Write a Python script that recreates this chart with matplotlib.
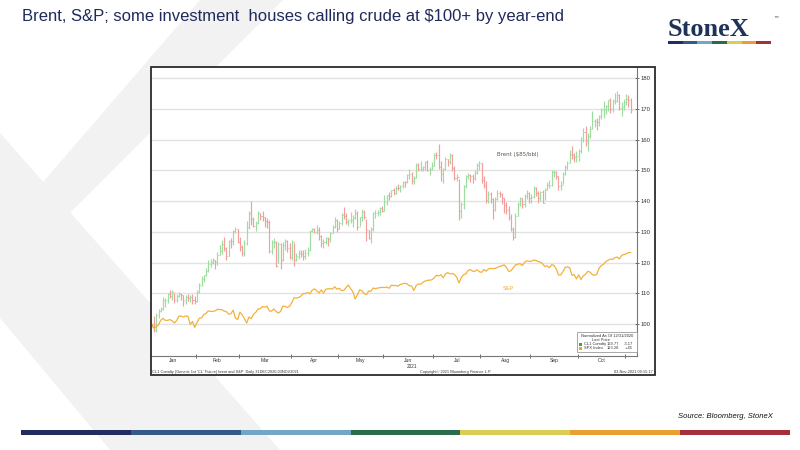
import numpy as np
import matplotlib.pyplot as plt
import pandas as pd
from matplotlib.patches import Rectangle, Polygon

W, H = 800, 450


def fx(x):
    return x / W


def fy(y):
    return 1 - y / H


# trading days, NYSE/NYMEX holidays removed
holidays = ['2021-01-01', '2021-01-18', '2021-02-15', '2021-04-02',
            '2021-05-31', '2021-07-05', '2021-09-06']
dates = pd.bdate_range('2020-12-31', '2021-11-03')
dates = dates[~dates.isin(pd.to_datetime(holidays))]

# crude, $/bbl (close / high / low), one row per month
crude_close = [48.52,
    47.62, 49.93, 50.63, 50.83, 52.24, 52.25, 53.21, 52.91, 53.57, 52.36, 52.98, 53.24, 53.13, 52.27, 52.77, 52.61, 52.85, 52.34, 52.20,
    53.55, 54.76, 55.69, 56.23, 56.85, 57.97, 58.36, 58.68, 58.24, 59.47, 60.05, 61.14, 60.52, 59.24, 61.70, 61.67, 63.22, 63.53, 61.50,
    60.64, 59.75, 61.28, 63.83, 66.09, 65.05, 64.01, 64.44, 66.02, 65.61, 65.39, 64.80, 64.60, 60.00, 61.42, 61.55, 57.76, 61.18, 58.56, 60.97, 61.56, 60.55, 59.16,
    61.45, 58.65, 59.33, 59.77, 59.60, 59.32, 59.70, 60.18, 63.15, 63.46, 63.13, 63.38, 62.44, 61.35, 61.43, 62.14, 61.91, 62.94, 63.86, 65.01, 63.58,
    64.49, 65.69, 65.63, 64.71, 64.90, 64.92, 65.28, 66.08, 63.82, 65.37, 66.27, 65.49, 63.36, 62.05, 63.58, 66.05, 66.07, 66.21, 66.85, 66.32,
    67.72, 68.83, 68.81, 69.62, 69.23, 70.05, 69.96, 70.29, 70.91, 70.88, 72.12, 72.15, 71.04, 71.64, 73.66, 73.06, 73.08, 73.30, 74.05, 72.91, 72.98, 73.47,
    75.23, 75.16, 73.37, 72.20, 72.94, 74.56, 74.10, 75.25, 73.13, 71.65, 71.81, 66.42, 67.42, 70.30, 71.91, 72.07, 71.91, 71.65, 72.39, 73.62, 73.95,
    71.26, 70.56, 68.15, 69.09, 68.28, 66.48, 68.29, 69.25, 69.09, 68.44, 67.29, 66.59, 65.46, 63.50, 62.32, 65.64, 67.54, 68.36, 67.42, 68.74, 69.21, 68.50,
    68.59, 69.99, 69.29, 68.35, 69.30, 67.68, 69.72, 70.45, 70.46, 72.61, 72.61, 71.97, 70.29, 70.56, 72.23, 73.30, 73.98, 75.45, 75.29, 74.83, 75.03,
    75.88, 77.62, 78.93, 77.43, 78.30, 79.35, 80.52, 80.64, 80.44, 81.31, 82.28, 82.44, 82.96, 83.87, 82.50, 83.76, 83.76, 84.65, 82.66, 82.81, 83.57,
    84.05, 83.91, 82.37]

crude_high = [48.58,
    49.83, 50.20, 50.94, 51.28, 52.75, 52.69, 53.41, 53.93, 53.91, 53.46, 53.19, 53.55, 53.38, 53.17, 53.10, 53.29, 53.05, 53.28, 52.87,
    53.93, 55.02, 56.18, 56.33, 57.29, 58.62, 58.75, 58.91, 58.68, 59.83, 60.95, 61.73, 62.26, 60.63, 61.86, 62.11, 63.40, 63.81, 63.55,
    62.33, 60.97, 61.76, 64.86, 66.40, 67.98, 65.42, 64.81, 66.40, 66.04, 66.30, 65.42, 65.22, 64.95, 61.83, 62.04, 61.71, 61.47, 61.36, 61.40, 61.93, 61.79, 61.25,
    61.72, 61.28, 59.73, 60.18, 60.26, 60.29, 60.39, 60.76, 63.44, 63.71, 63.66, 64.13, 63.88, 62.57, 61.95, 62.29, 62.20, 63.02, 64.09, 65.47, 65.04,
    64.81, 66.06, 67.00, 65.98, 65.07, 66.24, 65.75, 66.65, 66.30, 65.46, 66.74, 66.48, 65.11, 63.44, 63.91, 66.21, 66.51, 66.61, 67.05, 67.18,
    68.87, 68.96, 69.40, 69.76, 70.00, 70.28, 70.62, 70.48, 71.09, 71.19, 72.25, 72.99, 72.53, 71.87, 73.96, 73.93, 74.25, 73.55, 74.20, 74.45, 73.37, 74.14,
    75.60, 75.68, 76.98, 74.35, 73.20, 74.89, 74.66, 75.55, 75.36, 73.49, 72.24, 71.49, 67.80, 70.48, 72.02, 72.44, 72.25, 72.17, 72.92, 73.89, 74.22,
    74.02, 71.87, 71.04, 69.60, 69.40, 68.36, 68.63, 69.76, 69.50, 69.23, 68.43, 67.76, 67.15, 65.92, 63.92, 66.00, 67.76, 68.56, 68.48, 69.02, 69.68, 69.39,
    69.06, 70.25, 70.16, 69.53, 69.54, 69.77, 69.96, 70.91, 71.32, 72.81, 72.93, 72.65, 71.96, 71.05, 72.47, 73.59, 74.28, 76.00, 76.67, 75.58, 75.86,
    76.19, 78.01, 79.48, 79.78, 78.68, 79.78, 82.18, 80.95, 81.00, 81.62, 82.67, 83.73, 83.11, 83.95, 84.27, 84.00, 84.97, 85.41, 84.81, 83.56, 84.06,
    84.88, 84.70, 84.25]

crude_low = [47.99,
    47.18, 47.26, 49.48, 50.36, 50.80, 51.28, 51.80, 52.60, 52.37, 51.91, 51.95, 52.82, 52.27, 51.43, 51.64, 52.10, 52.06, 51.68, 51.75,
    51.96, 53.35, 54.50, 55.15, 56.09, 56.81, 57.53, 58.05, 57.28, 57.87, 59.44, 59.60, 60.12, 58.59, 59.26, 60.60, 60.98, 62.84, 61.26,
    60.08, 59.19, 59.29, 60.98, 63.47, 64.21, 63.77, 63.22, 64.26, 64.90, 64.82, 63.90, 63.73, 59.79, 59.54, 60.60, 57.57, 58.23, 57.25, 58.55, 60.22, 59.84, 58.86,
    58.71, 57.63, 58.53, 58.79, 59.03, 58.61, 58.86, 59.30, 60.10, 62.98, 62.82, 62.79, 61.86, 60.61, 60.55, 61.09, 60.87, 61.55, 62.86, 63.63, 63.05,
    63.53, 64.22, 65.17, 64.32, 63.96, 64.40, 63.90, 65.04, 63.38, 63.96, 64.81, 65.05, 61.56, 61.89, 61.35, 63.23, 65.29, 65.51, 65.80, 66.16,
    66.34, 67.27, 68.05, 68.58, 68.92, 69.06, 69.63, 69.40, 70.07, 70.13, 70.78, 71.49, 70.62, 70.58, 71.55, 72.76, 72.68, 72.63, 72.85, 72.64, 72.02, 72.80,
    73.50, 74.63, 73.04, 71.17, 70.76, 72.92, 73.46, 73.83, 72.75, 71.21, 71.13, 65.01, 65.21, 66.73, 69.97, 71.40, 70.96, 70.87, 71.31, 72.23, 72.86,
    70.87, 70.03, 67.60, 67.68, 67.67, 65.15, 66.36, 68.08, 68.55, 67.51, 66.05, 65.91, 64.90, 63.24, 61.74, 62.08, 65.57, 67.19, 66.89, 66.95, 68.22, 67.58,
    67.59, 68.43, 68.80, 67.61, 68.03, 67.58, 68.14, 69.62, 69.99, 70.36, 71.77, 71.44, 69.63, 69.67, 70.69, 72.01, 72.81, 74.00, 74.53, 74.19, 74.15,
    74.26, 75.54, 77.35, 76.67, 75.82, 77.94, 79.39, 79.71, 79.11, 79.87, 80.97, 81.01, 81.72, 82.11, 81.84, 81.94, 83.30, 83.62, 82.40, 81.39, 82.28,
    83.08, 82.84, 81.90]

# S&P 500 closes
spx_close = [3756.07,
    3700.65, 3726.86, 3748.14, 3803.79, 3824.68, 3799.61, 3801.19, 3809.84, 3795.54, 3768.25, 3798.91, 3851.85, 3853.07, 3841.47, 3855.36, 3849.62, 3750.77, 3787.38, 3714.24,
    3773.86, 3826.31, 3830.17, 3871.74, 3886.83, 3915.59, 3911.23, 3909.88, 3916.38, 3934.83, 3932.59, 3931.33, 3913.97, 3906.71, 3876.50, 3881.37, 3925.43, 3829.34, 3811.15,
    3901.82, 3870.29, 3819.72, 3768.47, 3841.94, 3821.35, 3875.44, 3898.81, 3939.34, 3943.34, 3968.94, 3962.71, 3974.12, 3915.46, 3913.10, 3940.59, 3910.52, 3889.14, 3909.52, 3974.54, 3971.09, 3958.55, 3972.89,
    4019.87, 4077.91, 4073.94, 4079.95, 4097.17, 4128.80, 4127.99, 4141.59, 4124.66, 4170.42, 4185.47, 4163.26, 4134.94, 4173.42, 4134.98, 4180.17, 4187.62, 4186.72, 4183.18, 4211.47, 4181.17,
    4192.66, 4164.66, 4167.59, 4201.62, 4232.60, 4188.43, 4152.10, 4063.04, 4112.50, 4173.85, 4163.29, 4127.83, 4115.68, 4159.12, 4155.86, 4197.05, 4188.13, 4195.99, 4200.88, 4204.11,
    4202.04, 4208.12, 4192.85, 4229.89, 4226.52, 4227.26, 4219.55, 4239.18, 4247.44, 4255.15, 4246.59, 4223.70, 4221.86, 4166.45, 4224.79, 4246.44, 4241.84, 4266.49, 4280.70, 4290.61, 4291.80, 4297.50,
    4319.94, 4352.34, 4343.54, 4358.13, 4320.82, 4369.55, 4384.63, 4369.21, 4374.30, 4360.03, 4327.16, 4258.49, 4323.06, 4358.69, 4367.48, 4411.79, 4422.30, 4401.46, 4400.64, 4419.15, 4395.26,
    4387.16, 4423.15, 4402.66, 4429.10, 4436.52, 4432.35, 4436.75, 4447.70, 4460.83, 4468.00, 4479.71, 4448.08, 4400.27, 4405.80, 4441.67, 4479.53, 4486.23, 4496.19, 4470.00, 4509.37, 4528.79, 4522.68,
    4524.09, 4536.95, 4535.43, 4520.03, 4514.07, 4493.28, 4458.58, 4468.73, 4443.05, 4480.70, 4473.75, 4432.99, 4357.73, 4354.19, 4395.64, 4448.98, 4455.48, 4443.11, 4352.63, 4359.46, 4307.54,
    4357.04, 4300.46, 4345.72, 4363.55, 4399.76, 4391.34, 4361.19, 4350.65, 4363.80, 4438.26, 4471.37, 4486.46, 4519.63, 4536.19, 4549.78, 4544.90, 4566.48, 4574.79, 4551.68, 4596.42, 4605.38,
    4613.67, 4630.65, 4630.65]

months = ['Jan', 'Feb', 'Mar', 'Apr', 'May', 'Jun', 'Jul', 'Aug', 'Sep', 'Oct']
yticks = [100, 110, 120, 130, 140, 150, 160, 170, 180]

# normalise as of 12/31/2020
c = np.array(crude_close)
base = c[0]
close = 100 * c / base
high = 100 * np.array(crude_high) / base
low = 100 * np.array(crude_low) / base
openp = np.r_[close[0], close[:-1]]
spx = 100 * np.array(spx_close) / spx_close[0]
x = np.arange(len(dates))

fig = plt.figure(figsize=(8, 4.5), dpi=100)
plt.rcParams['font.family'] = ['Liberation Sans', 'DejaVu Sans']

# faint X watermark behind everything
grey = '#f2f2f2'
for pts in ([(200, 0), (283, 0), (0, 283), (0, 232)],
            [(0, 133), (280, 450), (110, 450), (0, 318)]):
    fig.patches.append(Polygon([(fx(a), fy(b)) for a, b in pts], closed=True,
                               transform=fig.transFigure, fc=grey, ec='none', zorder=-2))

# chart panel
bx0, by0, bx1, by1 = 150.7, 66.7, 655, 375
fig.patches.append(Rectangle((fx(bx0), fy(by1)), fx(bx1) - fx(bx0), fy(by0) - fy(by1),
                             transform=fig.transFigure, fc='white', ec='none', zorder=-1))
fig.patches.append(Rectangle((fx(bx0), fy(by1)), fx(bx1) - fx(bx0), fy(by0) - fy(by1),
                             transform=fig.transFigure, fc='none', ec='#2b2b2b', lw=1.3, zorder=5))

ax = fig.add_axes([fx(150.7), fy(356), fx(637) - fx(150.7), fy(66.7) - fy(356)])
ax.set_facecolor('white')

up = close >= openp
cols = np.where(up, '#9fdc9f', '#f39d9d')
ax.vlines(x, low, high, colors=cols, lw=0.85, zorder=3)
ax.hlines(openp, x - 0.45, x, colors=cols, lw=0.7, zorder=3)
ax.hlines(close, x, x + 0.45, colors=cols, lw=0.7, zorder=3)
ax.plot(x, spx, color='#f3b13c', lw=0.9, zorder=4)

ax.set_xlim(-0.5, 214.8)
ax.set_ylim(89.58, 183.79)

ax.yaxis.tick_right()
ax.set_yticks(yticks)
ax.yaxis.grid(True, color='#e2e2e2', lw=1.0, zorder=0)
ax.tick_params(axis='y', direction='inout', length=3, width=0.6, color='#555555',
               labelsize=4.2, pad=1, labelcolor='#333333')

# month boundaries as ticks, labels centred in each month
mstart = [int(np.argmax(dates.month == m)) for m in range(2, 12)]
bounds = [-0.5] + [m - 0.5 for m in mstart]
centres = [(bounds[k] + bounds[k + 1]) / 2 for k in range(len(months))]
ax.set_xticks(bounds[1:])
ax.set_xticklabels([])
ax.set_xticks(centres, minor=True)
ax.set_xticklabels(months, minor=True)
ax.tick_params(axis='x', which='major', direction='inout', length=3, width=0.6, color='#555555')
ax.tick_params(axis='x', which='minor', length=0, labelsize=3.6, pad=1.5, labelcolor='#333333')

for s in ['top', 'left']:
    ax.spines[s].set_visible(False)
for s in ['bottom', 'right']:
    ax.spines[s].set_color('#777777')
    ax.spines[s].set_linewidth(0.8)

ax.text(162, 155.3, 'Brent ($85/bbl)', fontsize=4, color='#5a5a4a', ha='center', va='center',
        family='DejaVu Sans')
ax.text(157.7, 111.4, 'S&P', fontsize=4, color='#f3a83a', ha='center', va='center',
        family='DejaVu Sans')

# bloomberg-style legend box
fig.patches.append(Rectangle((fx(576.7), fy(351.7)), fx(636.7) - fx(576.7), fy(331.7) - fy(351.7),
                             transform=fig.transFigure, fc='white', ec='#9a9a9a', lw=0.6, zorder=6))
small = dict(fontsize=2.9, color='#333333', family='Liberation Sans', zorder=7, va='center')
fig.text(fx(607), fy(335.7), 'Normalized As Of 12/31/2020', ha='center', **small)
fig.text(fx(601), fy(340), 'Last Price', ha='center', **small)
for yy, col, name, last, chg in [(344.3, '#22b822', 'CL1 Comdty', f'{close[-1]:.2f}', '-3.17'),
                                 (348.3, '#f7a21b', 'SPX Index', f'{spx[-1]:.2f}', '+.45')]:
    fig.patches.append(Rectangle((fx(579), fy(yy + 1.6)), 3.2 / W, 3.2 / H,
                                 transform=fig.transFigure, fc=col, ec='none', zorder=7))
    fig.text(fx(583.5), fy(yy), name, ha='left', **small)
    fig.text(fx(619.5), fy(yy), last, ha='right', **small)
    fig.text(fx(633), fy(yy), chg, ha='right', **small)

foot = dict(small, fontsize=2.8)
fig.text(fx(411.7), fy(366.5), '2021', ha='center', **dict(small, fontsize=3.4))
fig.text(fx(152), fy(372), "CL1 Comdty (Generic 1st 'CL' Future) brent and S&P  Daily 31DEC2020-03NOV2021",
         ha='left', **foot)
fig.text(fx(456), fy(372), 'Copyright\u00a9 2021 Bloomberg Finance L.P.', ha='center', **foot)
fig.text(fx(653), fy(372), '03-Nov-2021 09:15:17', ha='right', **foot)

# slide furniture
fig.text(fx(22), fy(16), 'Brent, S&P; some investment  houses calling crude at $100+ by year-end',
         fontsize=12, color='#1f2a5a', va='center', ha='left')
fig.text(fx(668), fy(29), 'StoneX', fontsize=19, color='#1f3358', family='Liberation Serif',
         weight='bold', va='center', ha='left')
fig.text(fx(773), fy(20), '\u2122', fontsize=4, color='#1f3358', va='center', ha='left',
         family='DejaVu Sans')

stripe = ['#222c5e', '#365a87', '#74a6c6', '#2b6a4b', '#d9cd55', '#e9a033', '#a3303a']
for k, col in enumerate(stripe):
    w_logo = (771 - 668) / 7
    fig.patches.append(Rectangle((fx(668 + k * w_logo), fy(43.5)), w_logo / W, 2.2 / H,
                                 transform=fig.transFigure, fc=col, ec='none'))
    w_bar = (790 - 21) / 7
    fig.patches.append(Rectangle((fx(21 + k * w_bar), fy(435)), w_bar / W, 4.6 / H,
                                 transform=fig.transFigure, fc=col, ec='none'))

fig.text(fx(773), fy(416), 'Source: Bloomberg, StoneX', fontsize=5.5, style='italic',
         color='#111111', ha='right', va='center')

fig.savefig('out.png', dpi=100)
